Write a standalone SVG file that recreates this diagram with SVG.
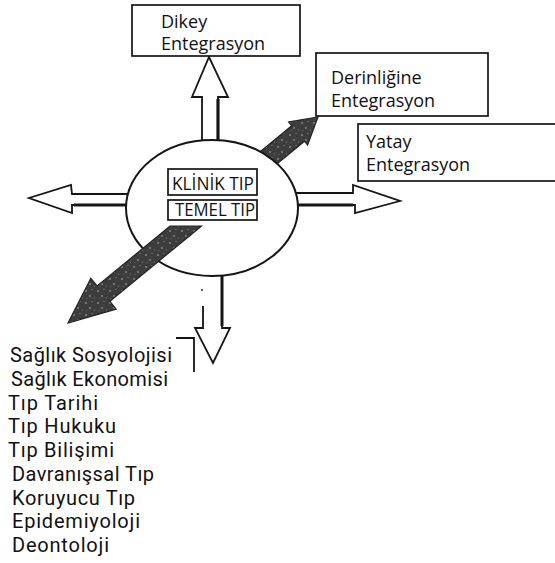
<svg xmlns="http://www.w3.org/2000/svg" width="555" height="563" viewBox="0 0 555 563">
  <defs>
    <style>
      .box { fill: #ffffff; stroke: #151515; stroke-width: 1.7; }
      .lbl { font-family: "Open Sans", "Noto Sans", "DejaVu Sans", sans-serif; font-size: 18px; fill: #111; }
      .lst { font-family: Roboto, "Open Sans", "DejaVu Sans", sans-serif; font-size: 20px; fill: #111; }
      .tip { font-family: "Open Sans", "Noto Sans", "DejaVu Sans", sans-serif; font-size: 19px; fill: #111; }
      .warr { fill: #ffffff; stroke: #151515; stroke-width: 1.8; stroke-linejoin: miter; }
      .dark { fill: url(#speck); stroke: #222; stroke-width: 1.2; }
      .ln { fill: none; stroke: #151515; stroke-width: 1.8; }
    </style>
    <pattern id="speck" width="12" height="12" patternUnits="userSpaceOnUse">
      <rect width="12" height="12" fill="#3d3d3d"/>
      <circle cx="2" cy="3" r="0.8" fill="#bbb"/>
      <circle cx="8" cy="1.5" r="0.6" fill="#999"/>
      <circle cx="6" cy="8" r="0.7" fill="#ccc"/>
      <circle cx="10.5" cy="10" r="0.6" fill="#888"/>
      <circle cx="3" cy="10.5" r="0.5" fill="#777"/>
    </pattern>
  </defs>
  <rect width="555" height="563" fill="#ffffff"/>

  <g id="connectors">
    <!-- up arrow -->
    <polygon class="warr" points="202,150 202,97 192,97 209,57 228,97 218,97 218,150"/>
    <line x1="218" y1="99" x2="218" y2="140" stroke="#151515" stroke-width="3.2"/>
    <!-- left arrow -->
    <polygon class="warr" points="140,194 72,194 71,185 29,198 72,213 72,205 140,205"/>
    <line x1="74" y1="205" x2="126" y2="205" stroke="#151515" stroke-width="3"/>
    <!-- right arrow -->
    <polygon class="warr" points="285,193 353,193 353,185 400,201 355,213 355,205 285,205"/>
    <line x1="298" y1="205" x2="353" y2="205" stroke="#151515" stroke-width="3"/>
    <!-- down arrow -->
    <polygon points="203,270 203,328 195,328 213,363 230,328 222,328 222,270" fill="#fff" stroke="none"/>
    <path class="ln" d="M222,270 V328 H230 L213,363 L195,328 H203 V306"/>
    <line x1="222" y1="276" x2="222" y2="326" stroke="#151515" stroke-width="3"/>
    <circle cx="202" cy="290" r="1" fill="#333"/>
    <!-- diagonal arrow, upper part (behind ellipse) -->
    <polygon class="dark" points="192.8,207.2 291.7,125.8 288.6,121.9 318,117 307.6,145.1 304.5,141.2 205.6,222.6"/>
  </g>

  <g id="core">
    <ellipse cx="212" cy="208" rx="86" ry="68" fill="#ffffff" stroke="#151515" stroke-width="2"/>
  </g>

  <g id="connector-front">
    <polygon class="dark" points="68,323 90.8,278.3 97.1,286 170,226 201.5,226 109.9,301.4 116.2,309.1"/>
  </g>

  <g id="klinik-tip">
    <rect class="box" x="168" y="169" width="89" height="26"/>
    <text class="tip" x="172" y="190" textLength="82" lengthAdjust="spacingAndGlyphs">KLİNİK TIP</text>
  </g>
  <g id="temel-tip">
    <rect class="box" x="168" y="200" width="89" height="20"/>
    <text class="tip" x="175" y="216" textLength="80" lengthAdjust="spacingAndGlyphs">TEMEL TIP</text>
  </g>

  <g id="dikey">
    <rect class="box" x="132" y="5" width="168" height="51"/>
    <text class="lbl"><tspan x="161" y="28">Dikey</tspan><tspan x="161" y="50">Entegrasyon</tspan></text>
  </g>
  <g id="derinligine">
    <rect class="box" x="316" y="53" width="172" height="63"/>
    <text class="lbl"><tspan x="331" y="84">Derinliğine</tspan><tspan x="331" y="107">Entegrasyon</tspan></text>
  </g>
  <g id="yatay">
    <rect class="box" x="358" y="124" width="200" height="57"/>
    <text class="lbl"><tspan x="366" y="148">Yatay</tspan><tspan x="366" y="171">Entegrasyon</tspan></text>
  </g>

  <g id="list">
    <path class="ln" d="M176,338 H194 V372"/>
    <text class="lst" x="10" y="362" textLength="162" lengthAdjust="spacing">Sağlık Sosyolojisi</text>
    <text class="lst" x="11" y="385.75" textLength="157" lengthAdjust="spacing">Sağlık Ekonomisi</text>
    <text class="lst" x="8" y="409.5" textLength="90" lengthAdjust="spacing">Tıp Tarihi</text>
    <text class="lst" x="8" y="433.25" textLength="108" lengthAdjust="spacing">Tıp Hukuku</text>
    <text class="lst" x="8" y="457" textLength="106" lengthAdjust="spacing">Tıp Bilişimi</text>
    <text class="lst" x="12" y="480.75" textLength="142" lengthAdjust="spacing">Davranışsal Tıp</text>
    <text class="lst" x="12" y="504.5" textLength="123" lengthAdjust="spacing">Koruyucu Tıp</text>
    <text class="lst" x="12" y="528.25" textLength="128" lengthAdjust="spacing">Epidemiyoloji</text>
    <text class="lst" x="12" y="552" textLength="97" lengthAdjust="spacing">Deontoloji</text>
  </g>
</svg>
